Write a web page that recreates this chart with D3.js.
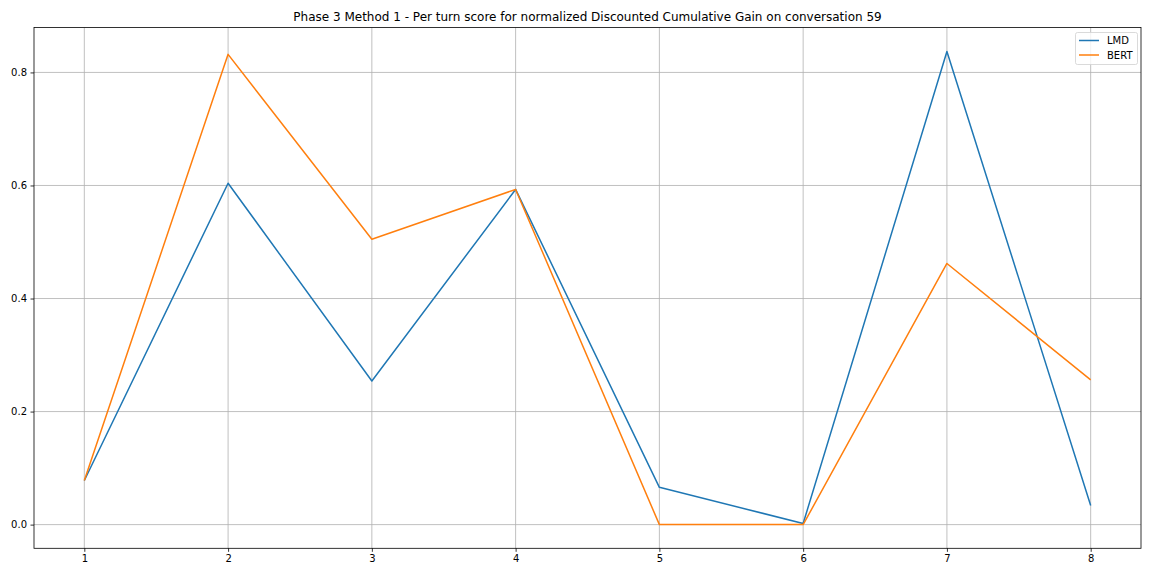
<!DOCTYPE html>
<html><head><meta charset="utf-8">
<script src="https://cdn.jsdelivr.net/npm/d3@7"></script>
<style>body{margin:0;background:#fff}svg{display:block;font-family:"DejaVu Sans",sans-serif}</style>
</head><body><svg id="c" width="1152" height="576"></svg>
<script>
const turns = [1,2,3,4,5,6,7,8];
const lmd  = [0.078,0.604,0.254,0.593,0.066,0.002,0.837,0.034];
const bert = [0.078,0.832,0.505,0.593,0.0,0.0,0.462,0.256];
const yTicks = [0.0,0.2,0.4,0.6,0.8];
const seriesNames = ["LMD","BERT"];
const colors = ["#1f77b4","#ff7f0e"];
const title = "Phase 3 Method 1 - Per turn score for normalized Discounted Cumulative Gain on conversation 59";

const svg = d3.select("#c");
const L=34,R=1141,T=27.5,B=548.3;
const x = d3.scaleLinear().domain([0.65,8.35]).range([L,R]);
const y = d3.scaleLinear().domain([-0.0419,0.8795]).range([B,T]);

// grid
svg.append("g").selectAll("line").data(turns).join("line")
  .attr("x1",d=>x(d)).attr("x2",d=>x(d)).attr("y1",T).attr("y2",B)
  .attr("stroke","#b0b0b0").attr("stroke-width",0.8);
svg.append("g").selectAll("line").data(yTicks).join("line")
  .attr("y1",d=>y(d)).attr("y2",d=>y(d)).attr("x1",L).attr("x2",R)
  .attr("stroke","#b0b0b0").attr("stroke-width",0.8);

// axes
const xa = svg.append("g").attr("transform",`translate(0,${B})`)
  .call(d3.axisBottom(x).tickValues(turns).tickFormat(d3.format("d")).tickSize(3.5).tickPadding(3.5));
const ya = svg.append("g").attr("transform",`translate(${L},0)`)
  .call(d3.axisLeft(y).tickValues(yTicks).tickFormat(d3.format(".1f")).tickSize(3.5).tickPadding(3.5));
[xa,ya].forEach(a=>{a.select(".domain").remove();a.selectAll("text").attr("font-size",10).attr("fill","#000").attr("font-family","DejaVu Sans");a.selectAll("line").attr("stroke","#000").attr("stroke-width",0.8);});

// lines
const line = d3.line().x((d,i)=>x(turns[i])).y(d=>y(d));
[lmd,bert].forEach((s,k)=>{
  svg.append("path").datum(s).attr("d",line).attr("fill","none")
    .attr("stroke",colors[k]).attr("stroke-width",1.5).attr("stroke-linejoin","round");
});

// frame
svg.append("rect").attr("x",L).attr("y",T).attr("width",R-L).attr("height",B-T)
  .attr("fill","none").attr("stroke","#000").attr("stroke-width",0.8);

// title
svg.append("text").attr("x",(L+R)/2).attr("y",21).attr("text-anchor","middle")
  .attr("font-size",12).attr("fill","#000").text(title);

// legend
const lg = svg.append("g");
lg.append("rect").attr("x",1075.5).attr("y",32.5).attr("width",62).attr("height",32).attr("rx",2)
  .attr("fill","#fff").attr("fill-opacity",0.8).attr("stroke","#d0d0d0").attr("stroke-width",0.8);
seriesNames.forEach((n,i)=>{
  const yy = 40.5 + i*14.5;
  lg.append("line").attr("x1",1079).attr("x2",1099).attr("y1",yy).attr("y2",yy)
    .attr("stroke",colors[i]).attr("stroke-width",1.5);
  lg.append("text").attr("x",1107).attr("y",yy+3.5).attr("font-size",10).attr("fill","#000").text(n);
});
</script></body></html>
